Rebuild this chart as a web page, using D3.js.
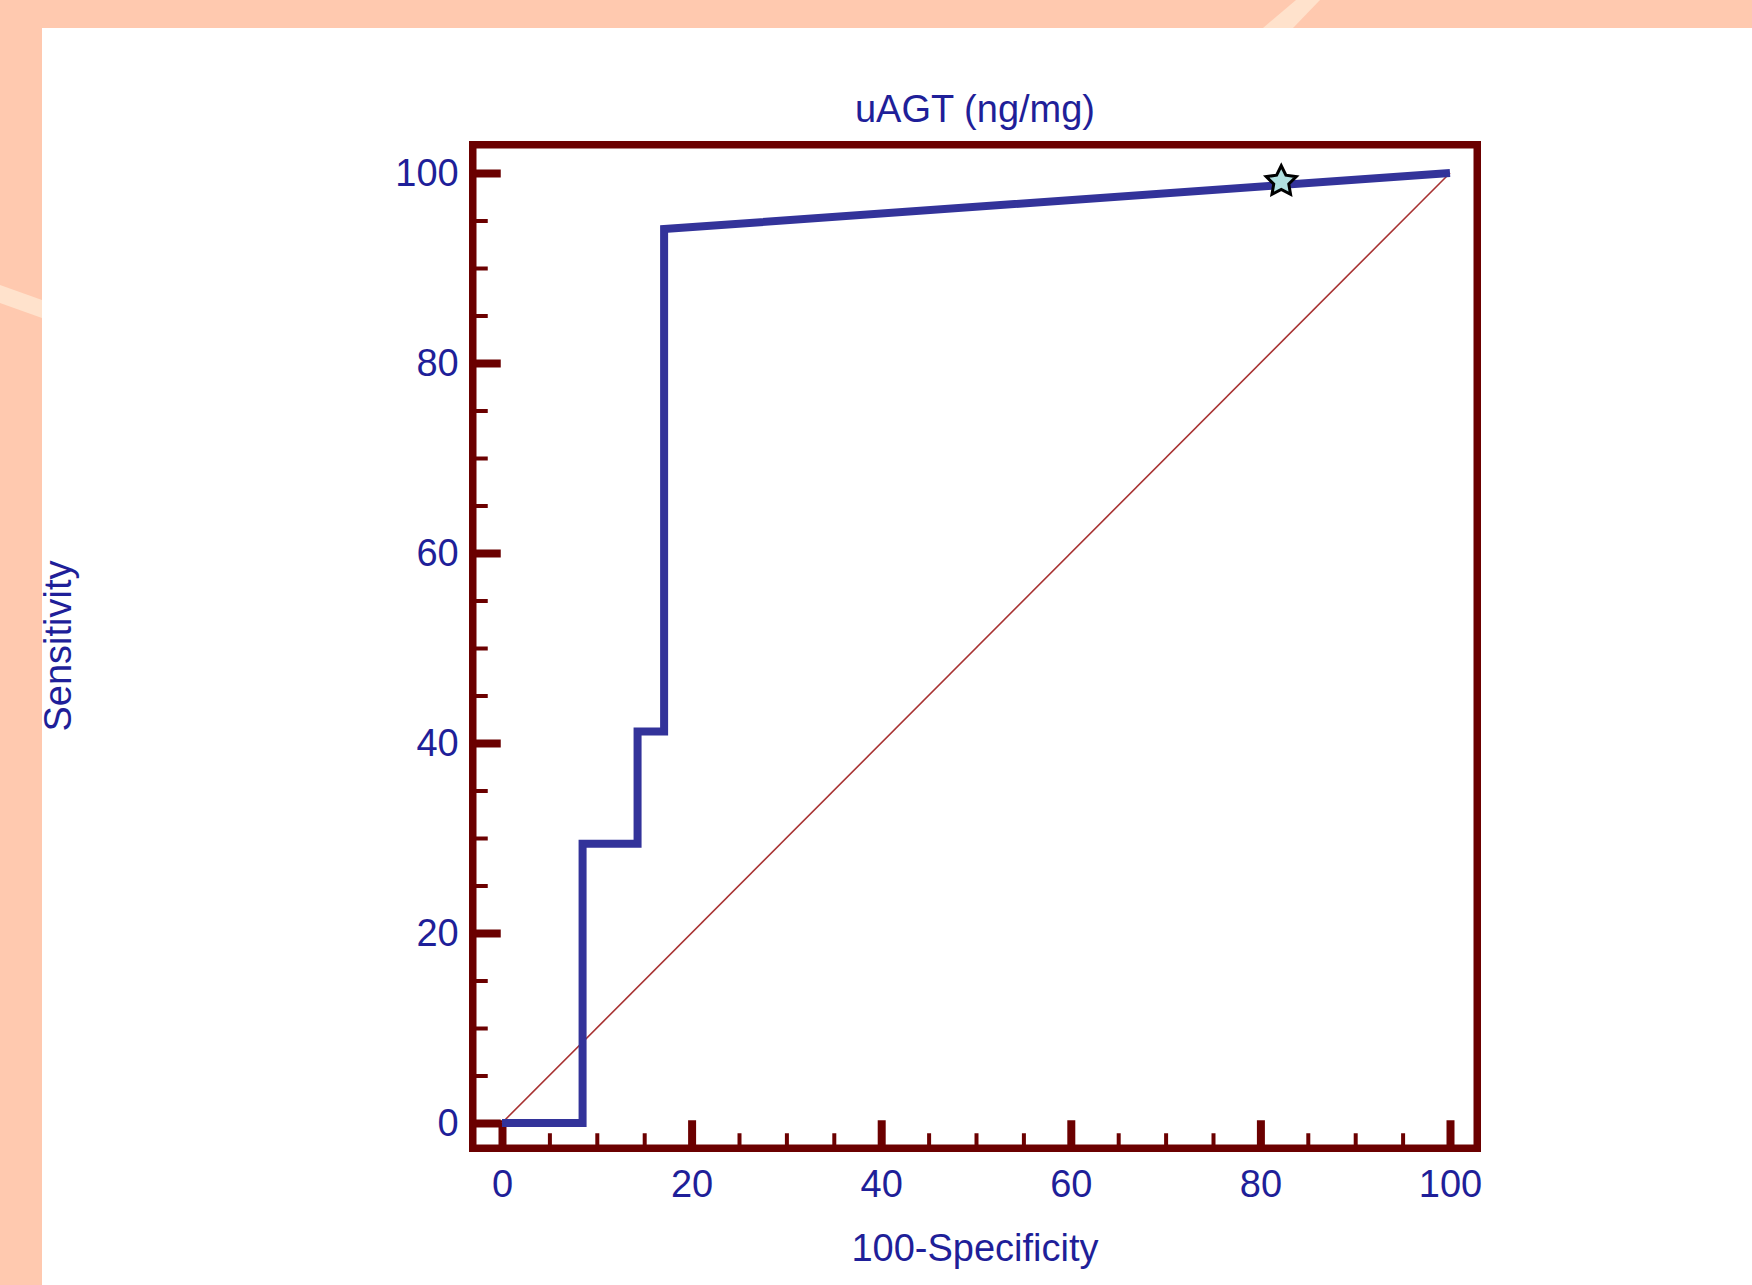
<!DOCTYPE html>
<html>
<head>
<meta charset="utf-8">
<script src="https://cdn.jsdelivr.net/npm/d3@7"></script>
<style>
  body { margin: 0; background: #ffc9af; }
  text { font-family: "Liberation Sans", Arial, sans-serif; }
</style>
</head>
<body>
<div id="chart"></div>
<script>
// ROC curve points (100-Specificity, Sensitivity)
const rocX = [0, 8.5, 8.5, 14.3, 14.3, 17.1, 17.1, 100]
const rocY = [0, 0, 29.4, 29.4, 41.2, 41.2, 94.1, 100]
// criterion point marked by the star
const critX = [82.2]
const critY = [99.1]
const majorTicks = [0, 20, 40, 60, 80, 100]
const minorTicks = d3.range(0, 101, 5).filter(d => d % 20 != 0)

const w = 1752
const h = 1285
const blue = "#33339a"
const frameCol = "#6b0000"
const textCol = "#1f1f99"

var svg = d3.select("#chart").append("svg")
    .attr("width", w).attr("height", h)

// peach page background + light stripes
svg.append("rect").attr("width", w).attr("height", h).attr("fill", "#ffc9af")
svg.append("polygon").attr("points", "1296,0 1320,0 1293,28 1263,28").attr("fill", "#ffe2cc")
svg.append("polygon").attr("points", "0,285 42,300 42,318 0,303").attr("fill", "#ffe2cc")
svg.append("rect").attr("x", 42).attr("y", 28).attr("width", w - 42).attr("height", h - 28).attr("fill", "#fff")

var x = d3.scaleLinear().domain([0, 100]).range([502, 1450])
var y = d3.scaleLinear().domain([0, 100]).range([1123, 173])

// frame
const fl = 469, fr = 1481, ft = 141, fb = 1152, fw = 7.5
svg.append("rect")
    .attr("x", fl + fw / 2).attr("y", ft + fw / 2)
    .attr("width", fr - fl - fw).attr("height", fb - ft - fw)
    .attr("fill", "none").attr("stroke", frameCol).attr("stroke-width", fw)

const axLeft = fl + fw / 2
const axBottom = fb - fw / 2

function tickAxis(gen, vals, len, width, transform) {
    var g = svg.append("g").attr("transform", transform)
        .call(gen.tickValues(vals).tickSize(len).tickFormat(""))
    g.select(".domain").remove()
    g.selectAll("line").attr("stroke", frameCol).attr("stroke-width", width)
}
tickAxis(d3.axisRight(y), minorTicks, 15, 4, "translate(" + axLeft + ",0)")
tickAxis(d3.axisRight(y), majorTicks, 28, 8, "translate(" + axLeft + ",0)")
tickAxis(d3.axisTop(x), minorTicks, 15, 4, "translate(0," + axBottom + ")")
tickAxis(d3.axisTop(x), majorTicks, 28, 8, "translate(0," + axBottom + ")")

// tick labels
var yl = svg.append("g").attr("transform", "translate(" + axLeft + ",0)")
    .call(d3.axisLeft(y).tickValues(majorTicks).tickSize(0).tickPadding(14))
yl.select(".domain").remove()
var xl = svg.append("g").attr("transform", "translate(0," + axBottom + ")")
    .call(d3.axisBottom(x).tickValues(majorTicks).tickSize(0).tickPadding(22))
xl.select(".domain").remove()
svg.selectAll(".tick text")
    .attr("font-family", "Liberation Sans, Arial, sans-serif")
    .attr("font-size", 38).attr("fill", textCol)

// diagonal reference line
svg.append("line")
    .attr("x1", x(0)).attr("y1", y(0)).attr("x2", x(100)).attr("y2", y(100))
    .attr("stroke", "#a83232").attr("stroke-width", 1.6)

// ROC curve
var line = d3.line().x(d => x(d[0])).y(d => y(d[1]))
svg.append("path")
    .datum(d3.zip(rocX, rocY))
    .attr("d", line)
    .attr("fill", "none").attr("stroke", blue).attr("stroke-width", 8)
    .attr("stroke-linejoin", "miter")

// fat five-point star (inner radius ~half of outer)
var fatStar = {
    draw: function(ctx, size) {
        var r = Math.sqrt(size) / 2, ri = r * 0.5
        for (var i = 0; i < 10; i++) {
            var a = -Math.PI / 2 + i * Math.PI / 5
            var rr = i % 2 ? ri : r
            if (i == 0) ctx.moveTo(rr * Math.cos(a), rr * Math.sin(a))
            else ctx.lineTo(rr * Math.cos(a), rr * Math.sin(a))
        }
        ctx.closePath()
    }
}
svg.selectAll(".crit").data(d3.zip(critX, critY))
    .enter().append("path")
    .attr("class", "crit")
    .attr("d", d3.symbol(fatStar, 1000))
    .attr("transform", d => "translate(" + x(d[0]) + "," + y(d[1]) + ")")
    .attr("fill", "#b0e0e0").attr("stroke", "#000").attr("stroke-width", 3)
    .attr("stroke-linejoin", "miter")

// titles
svg.append("text").attr("x", 975).attr("y", 122).attr("text-anchor", "middle")
    .attr("font-size", 38).attr("fill", textCol).text("uAGT (ng/mg)")
svg.append("text").attr("x", 975).attr("y", 1261).attr("text-anchor", "middle")
    .attr("font-size", 38).attr("fill", textCol).text("100-Specificity")
svg.append("text").attr("transform", "translate(71,646) rotate(-90)").attr("text-anchor", "middle")
    .attr("font-size", 38).attr("fill", textCol).text("Sensitivity")
</script>
</body>
</html>
